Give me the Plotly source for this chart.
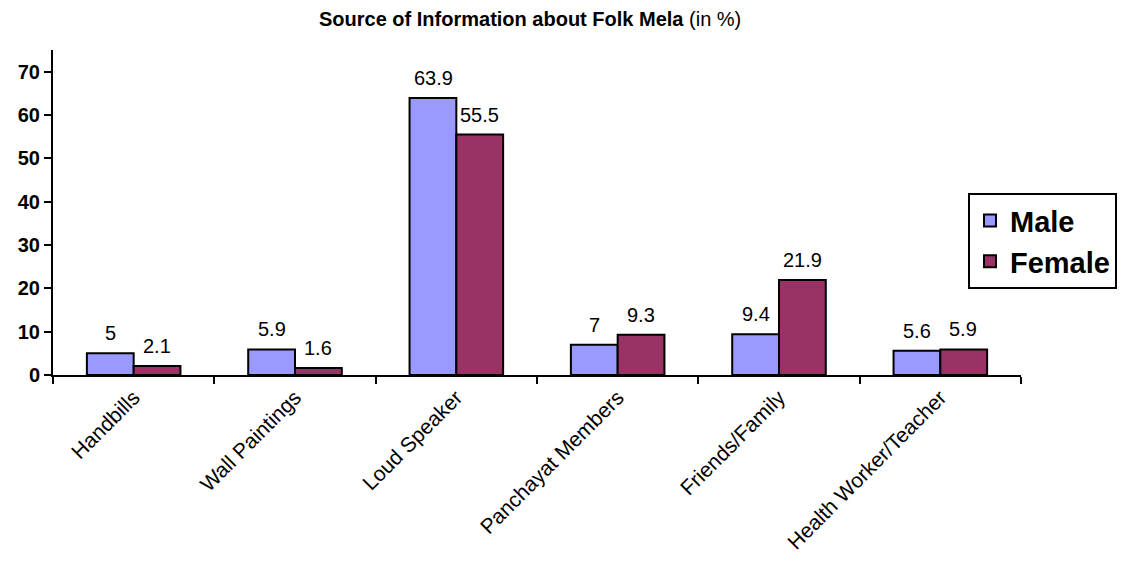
import plotly.graph_objects as go

categories = ["Handbills", "Wall Paintings", "Loud Speaker", "Panchayat Members",
              "Friends/Family", "Health Worker/Teacher"]
male = [5, 5.9, 63.9, 7, 9.4, 5.6]
female = [2.1, 1.6, 55.5, 9.3, 21.9, 5.9]
y_ticks = [0, 10, 20, 30, 40, 50, 60, 70]

MALE_C = "#9999FF"
FEMALE_C = "#993366"

fig = go.Figure()
fig.add_trace(go.Bar(name="Male", x=categories, y=male, marker=dict(color=MALE_C, line=dict(color="black", width=2))))
fig.add_trace(go.Bar(name="Female", x=categories, y=female, marker=dict(color=FEMALE_C, line=dict(color="black", width=2))))

annotations = []
for vals, shift in ((male, -23), (female, 23)):
    for c, v in zip(categories, vals):
        annotations.append(dict(x=c, y=v, xref="x", yref="y", text=str(v), showarrow=False,
                                xshift=shift, yshift=7, yanchor="bottom",
                                font=dict(family="Arial", size=20, color="black")))

annotations.append(dict(x=0.493, y=1.0, xref="paper", yref="paper", xanchor="center", yanchor="bottom",
                        yshift=18, showarrow=False,
                        text="<b>Source of Information about Folk Mela</b> (in %)",
                        font=dict(family="Arial", size=20, color="black")))

fig.update_layout(
    width=1121, height=565,
    margin=dict(l=53, r=100, t=50, b=190, autoexpand=False),
    plot_bgcolor="white", paper_bgcolor="white",
    barmode="group", bargap=0.42, bargroupgap=0,
    annotations=annotations,
    showlegend=True,
    legend=dict(x=0.8635, y=0.573, xref="container", yref="container",
                xanchor="left", yanchor="middle",
                bordercolor="black", borderwidth=2, bgcolor="white",
                font=dict(family="Arial", size=29, color="black", weight="bold"),
                itemsizing="constant"),
    xaxis=dict(showline=True, linecolor="black", linewidth=2, ticks="outside", ticklen=7,
               tickwidth=2, tickcolor="black", tickson="boundaries", tickangle=-45,
               automargin=False,
               tickfont=dict(family="Arial", size=21, color="black"), showgrid=False),
    yaxis=dict(range=[0, 75], showline=True, linecolor="black", linewidth=2, ticks="outside",
               ticklen=7, tickwidth=2, tickcolor="black", tickvals=y_ticks, automargin=False,
               tickfont=dict(family="Arial", size=20, color="black", weight="bold"),
               showgrid=False, zeroline=False),
)

fig.write_html("out.html")
